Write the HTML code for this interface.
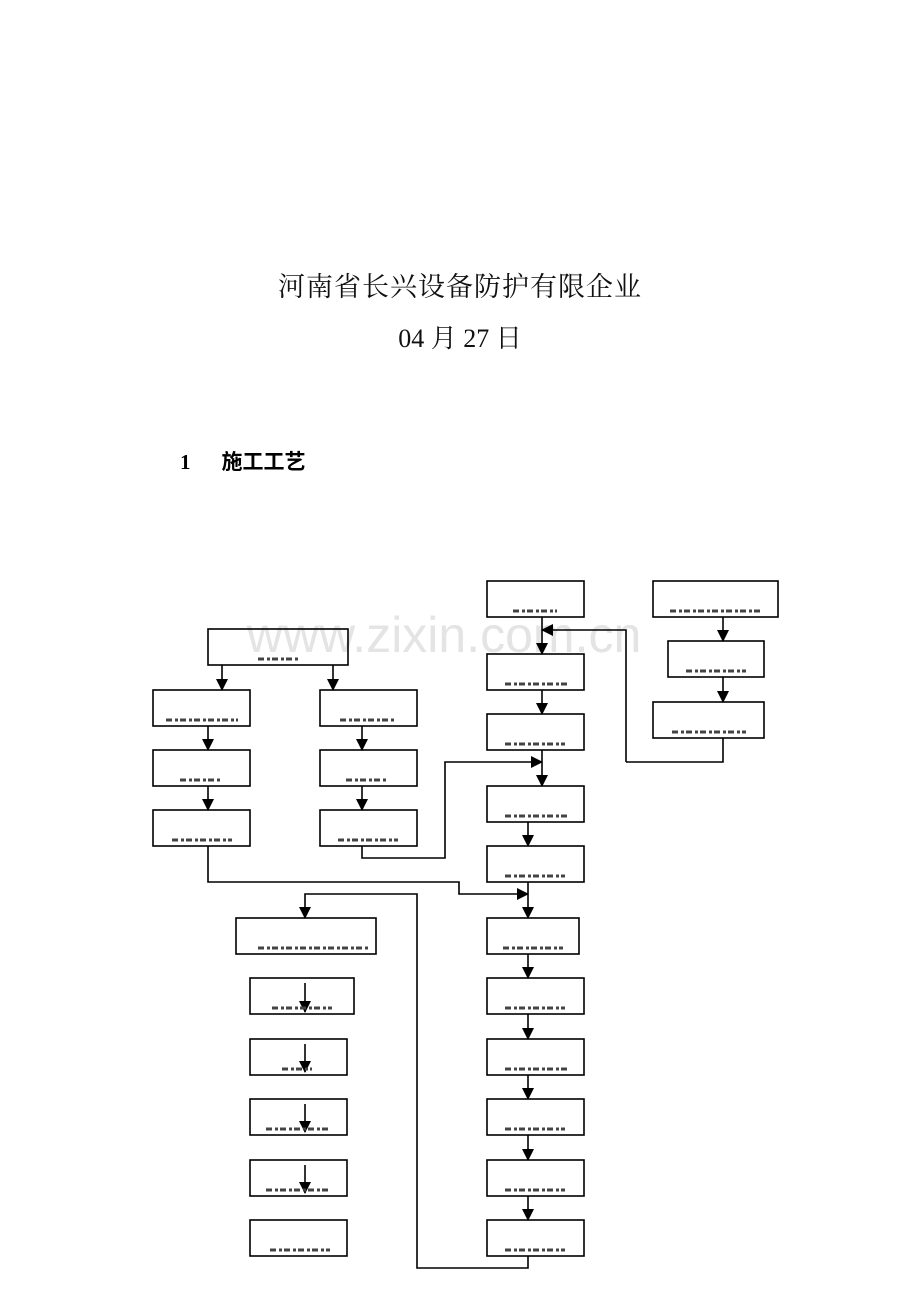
<!DOCTYPE html>
<html><head><meta charset="utf-8"><style>
body{margin:0;background:#fff;width:920px;height:1302px;overflow:hidden;position:relative}
.t{position:absolute;left:0;width:920px;text-align:center;font-family:"Liberation Serif","Noto Serif CJK SC",serif;color:#111}
</style></head><body>
<div class="t" style="top:265px;font-size:27px;letter-spacing:1px">河南省长兴设备防护有限企业</div>
<div class="t" style="top:318px;font-size:26px">04 月 27 日</div>
<div style="position:absolute;left:180px;top:446px;font-family:'Liberation Serif','Noto Sans CJK SC',serif;font-size:21px;font-weight:bold">1<span style="display:inline-block;width:31px"></span>施工工艺</div>
<svg width="920" height="1302" style="position:absolute;left:0;top:0" xmlns="http://www.w3.org/2000/svg">
<defs><marker id="a" markerWidth="12" markerHeight="12" refX="11" refY="6" orient="auto" markerUnits="userSpaceOnUse"><path d="M0,0L12,6L0,12z" fill="#000"/></marker></defs>
<text x="444" y="652" text-anchor="middle" font-family="Liberation Sans,sans-serif" font-size="50" fill="#e4e4e4">www.zixin.com.cn</text>
<g fill="none" stroke="#000" stroke-width="1.6">
<rect x="208" y="629" width="140" height="36"/>
<rect x="153" y="690" width="97" height="36"/><rect x="153" y="750" width="97" height="36"/><rect x="153" y="810" width="97" height="36"/>
<rect x="320" y="690" width="97" height="36"/><rect x="320" y="750" width="97" height="36"/><rect x="320" y="810" width="97" height="36"/>
<rect x="487" y="581" width="97" height="36"/><rect x="487" y="654" width="97" height="36"/><rect x="487" y="714" width="97" height="36"/>
<rect x="487" y="786" width="97" height="36"/><rect x="487" y="846" width="97" height="36"/><rect x="487" y="918" width="92" height="36"/>
<rect x="487" y="978" width="97" height="36"/><rect x="487" y="1039" width="97" height="36"/><rect x="487" y="1099" width="97" height="36"/>
<rect x="487" y="1160" width="97" height="36"/><rect x="487" y="1220" width="97" height="36"/>
<rect x="653" y="581" width="125" height="36"/><rect x="668" y="641" width="96" height="36"/><rect x="653" y="702" width="111" height="36"/>
<rect x="236" y="918" width="140" height="36"/><rect x="250" y="978" width="104" height="36"/>
<rect x="250" y="1039" width="97" height="36"/><rect x="250" y="1099" width="97" height="36"/><rect x="250" y="1160" width="97" height="36"/><rect x="250" y="1220" width="97" height="36"/>
</g>
<g fill="none" stroke="#000" stroke-width="1.6" marker-end="url(#a)">
<path d="M222 665V690"/><path d="M333 665V690"/>
<path d="M208 726V750"/><path d="M208 786V810"/>
<path d="M362 726V750"/><path d="M362 786V810"/>
<path d="M542 617V654"/><path d="M626 762V630H542"/>
<path d="M542 690V714"/><path d="M542 750V786"/>
<path d="M362 846V858H445V762H542"/>
<path d="M528 822V846"/>
<path d="M208 846V882H459V894H528"/><path d="M528 882V918"/>
<path d="M528 954V978"/><path d="M528 1014V1039"/><path d="M528 1075V1099"/><path d="M528 1135V1160"/><path d="M528 1196V1220"/>
<path d="M723 617V641"/><path d="M723 677V702"/>
<path d="M528 1256V1268H417V894H305V918"/>
<path d="M305 983V1012"/><path d="M305 1044V1072"/><path d="M305 1104V1132"/><path d="M305 1165V1193"/>
</g>
<path d="M723 738V762H626" fill="none" stroke="#000" stroke-width="1.6"/>
<g stroke="#444" stroke-width="3" stroke-dasharray="6 3 3 2" fill="none">
<path d="M258 659h40"/>
<path d="M166 720h72"/><path d="M180 780h40"/><path d="M172 840h60"/>
<path d="M340 720h56"/><path d="M346 780h40"/><path d="M338 840h60"/>
<path d="M513 611h44"/><path d="M505 684h62"/><path d="M505 744h60"/>
<path d="M505 816h62"/><path d="M505 876h60"/><path d="M503 948h60"/>
<path d="M505 1008h60"/><path d="M505 1069h62"/><path d="M505 1129h60"/>
<path d="M505 1190h60"/><path d="M505 1250h60"/>
<path d="M670 611h90"/><path d="M686 671h60"/><path d="M672 732h74"/>
<path d="M258 948h112"/><path d="M272 1008h60"/>
<path d="M282 1069h30"/><path d="M266 1129h64"/><path d="M266 1190h64"/><path d="M270 1250h60"/>
</g>
</svg>
</body></html>
